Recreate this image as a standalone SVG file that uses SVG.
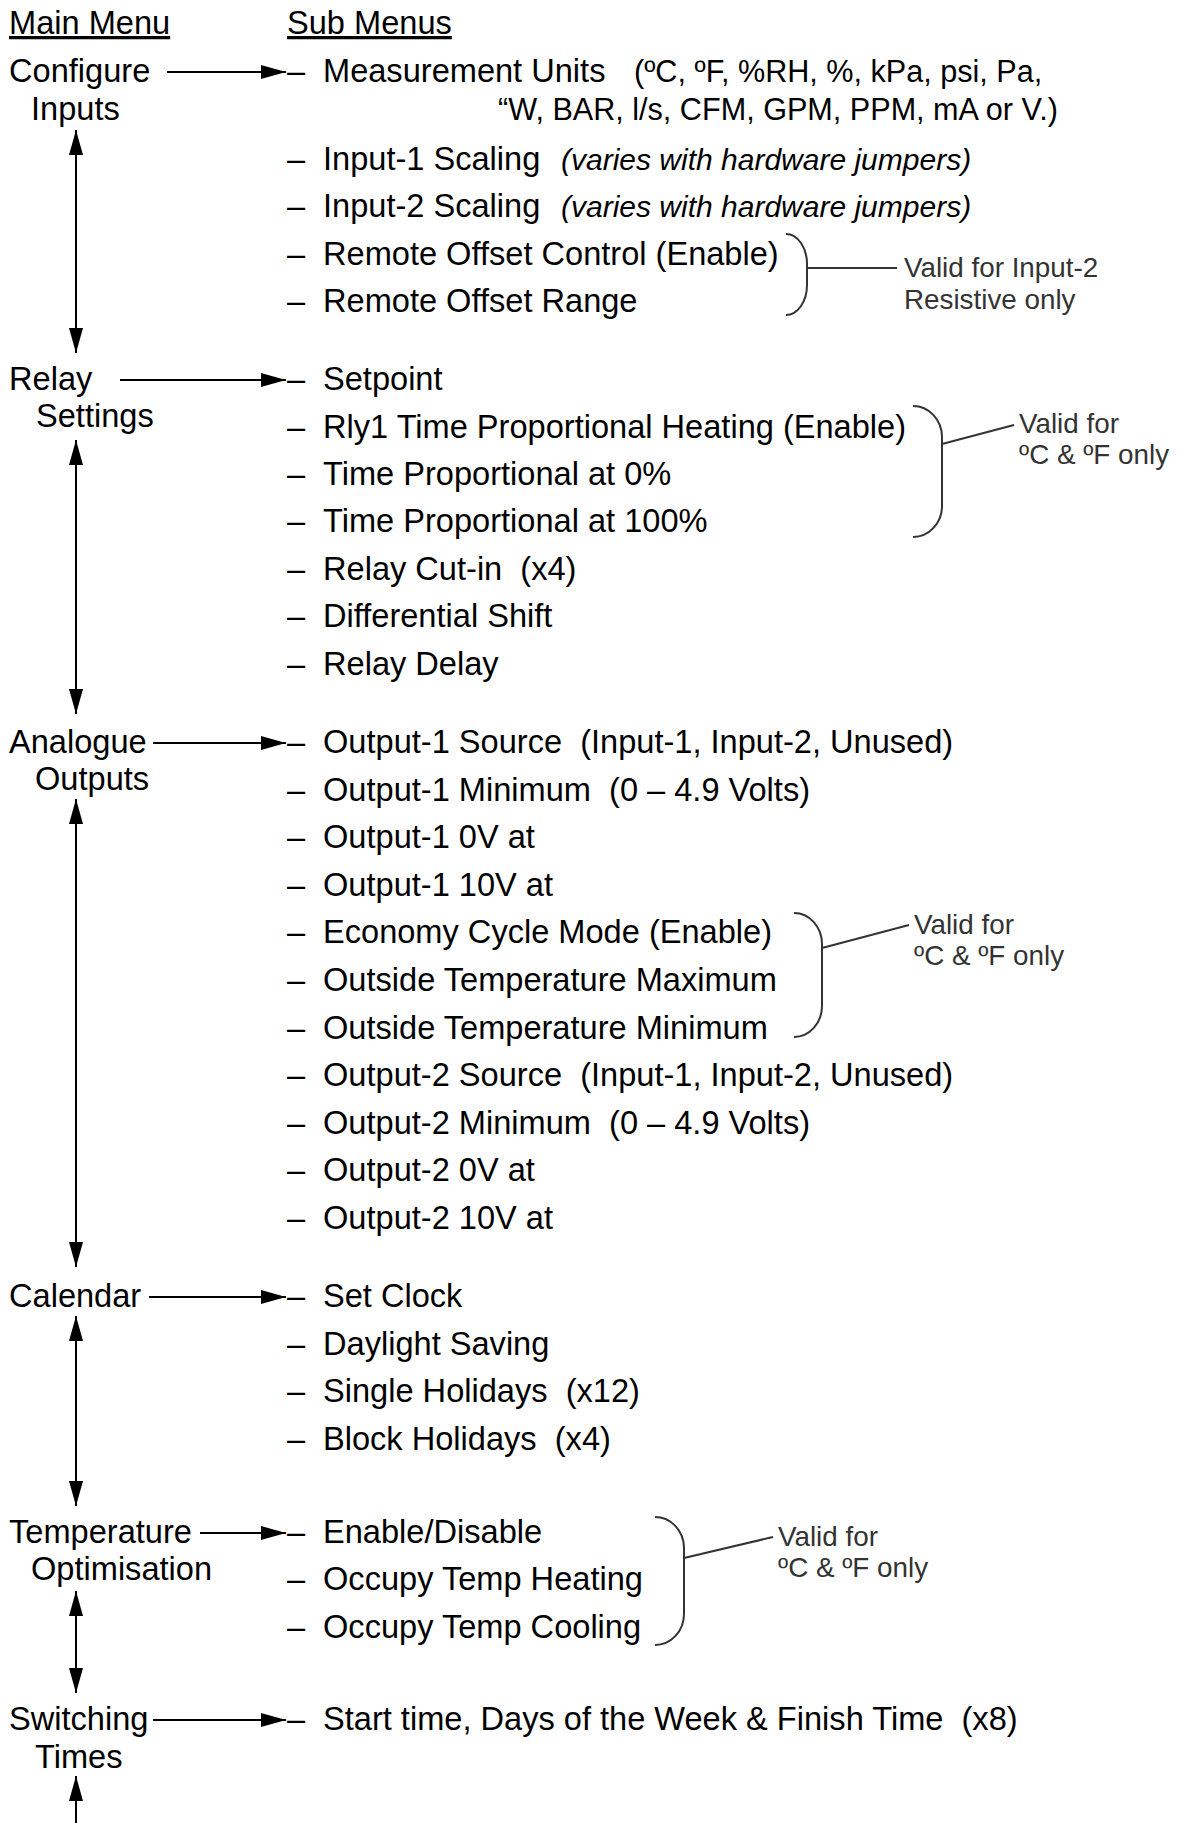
<svg xmlns="http://www.w3.org/2000/svg" width="1180" height="1823" viewBox="0 0 1180 1823">
<style>
text{font-family:"Liberation Sans",Arial,Helvetica,sans-serif;font-size:32.6px;fill:#000;white-space:pre}
.i{font-style:italic;font-size:30px}
.p{font-size:30.6px}
.n{font-size:27.8px;fill:#333}
.u{text-decoration:underline}
.br{fill:none;stroke:#333;stroke-width:2}
.c{stroke:#000;stroke-width:2;fill:none}
.h{marker-end:url(#ah)}
.v{marker-start:url(#ah);marker-end:url(#ah)}
.up{marker-start:url(#ah)}
</style>
<defs>
<marker id="ah" markerUnits="userSpaceOnUse" markerWidth="25" markerHeight="14" refX="25" refY="7" orient="auto-start-reverse">
<path d="M0,0 L25,7 L0,14 z" fill="#000"/>
</marker>
</defs>
<rect width="1180" height="1823" fill="#fff"/>
<g id="headers">
<text class="u" x="9" y="34">Main Menu</text>
<text class="u" x="287" y="34">Sub Menus</text>
</g>
<g id="connectors">
<line class="c h" x1="167" y1="72" x2="286" y2="72"/>
<line class="c h" x1="120" y1="380" x2="286" y2="380"/>
<line class="c h" x1="153" y1="743" x2="286" y2="743"/>
<line class="c h" x1="149" y1="1297" x2="286" y2="1297"/>
<line class="c h" x1="200" y1="1533" x2="286" y2="1533"/>
<line class="c h" x1="153" y1="1720" x2="286" y2="1720"/>
<line class="c v" x1="76" y1="130" x2="76" y2="353"/>
<line class="c v" x1="76" y1="440" x2="76" y2="714"/>
<line class="c v" x1="76" y1="799" x2="76" y2="1267"/>
<line class="c v" x1="76" y1="1316" x2="76" y2="1506"/>
<line class="c v" x1="76" y1="1591" x2="76" y2="1693"/>
<line class="c up" x1="76" y1="1776" x2="76" y2="1823"/>
</g>
<g id="configure-inputs">
<text x="9" y="82">Configure</text>
<text x="31" y="120">Inputs</text>
</g>
<g id="configure-submenu">
<text x="287" y="82">–</text><text x="323" y="82">Measurement Units</text><text class="p" x="634" y="82">(ºC, ºF, %RH, %, kPa, psi, Pa,</text>
<text class="p" x="498" y="120">“W, BAR, l/s, CFM, GPM, PPM, mA or V.)</text>
<text x="287" y="170">–</text><text x="323" y="170">Input-1 Scaling</text><text class="i" x="561" y="170">(varies with hardware jumpers)</text>
<text x="287" y="217">–</text><text x="323" y="217">Input-2 Scaling</text><text class="i" x="561" y="217">(varies with hardware jumpers)</text>
<text x="287" y="265">–</text><text x="323" y="265">Remote Offset Control (Enable)</text>
<text x="287" y="312">–</text><text x="323" y="312">Remote Offset Range</text>
</g>
<g id="note-input2">
<path class="br" d="M786,234 A21,30 0 0 1 807,264 L807,285 A21,30 0 0 1 786,315"/>
<line class="br" x1="807" y1="268" x2="897" y2="268"/>
<text class="n" x="904" y="277">Valid for Input-2</text>
<text class="n" x="904" y="309">Resistive only</text>
</g>
<g id="relay-settings">
<text x="9" y="390">Relay</text>
<text x="36" y="427">Settings</text>
</g>
<g id="relay-submenu">
<text x="287" y="390">–</text><text x="323" y="390">Setpoint</text>
<text x="287" y="438">–</text><text x="323" y="438">Rly1 Time Proportional Heating (Enable)</text>
<text x="287" y="485">–</text><text x="323" y="485">Time Proportional at 0%</text>
<text x="287" y="532">–</text><text x="323" y="532">Time Proportional at 100%</text>
<text x="287" y="580">–</text><text x="323" y="580">Relay Cut-in  (x4)</text>
<text x="287" y="627">–</text><text x="323" y="627">Differential Shift</text>
<text x="287" y="675">–</text><text x="323" y="675">Relay Delay</text>
</g>
<g id="note-relay">
<path class="br" d="M913,406 A29,31 0 0 1 942,437 L942,506 A29,31 0 0 1 913,537"/>
<line class="br" x1="942" y1="444" x2="1014" y2="425"/>
<text class="n" x="1019" y="433">Valid for</text>
<text class="n" x="1019" y="464">ºC &amp; ºF only</text>
</g>
<g id="analogue-outputs">
<text x="9" y="753">Analogue</text>
<text x="35" y="790">Outputs</text>
</g>
<g id="analogue-submenu">
<text x="287" y="753">–</text><text x="323" y="753">Output-1 Source  (Input-1, Input-2, Unused)</text>
<text x="287" y="801">–</text><text x="323" y="801">Output-1 Minimum  (0 – 4.9 Volts)</text>
<text x="287" y="848">–</text><text x="323" y="848">Output-1 0V at</text>
<text x="287" y="896">–</text><text x="323" y="896">Output-1 10V at</text>
<text x="287" y="943">–</text><text x="323" y="943">Economy Cycle Mode (Enable)</text>
<text x="287" y="991">–</text><text x="323" y="991">Outside Temperature Maximum</text>
<text x="287" y="1039">–</text><text x="323" y="1039">Outside Temperature Minimum</text>
<text x="287" y="1086">–</text><text x="323" y="1086">Output-2 Source  (Input-1, Input-2, Unused)</text>
<text x="287" y="1134">–</text><text x="323" y="1134">Output-2 Minimum  (0 – 4.9 Volts)</text>
<text x="287" y="1181">–</text><text x="323" y="1181">Output-2 0V at</text>
<text x="287" y="1229">–</text><text x="323" y="1229">Output-2 10V at</text>
</g>
<g id="note-economy">
<path class="br" d="M794,913 A28,31 0 0 1 822,944 L822,1006 A28,31 0 0 1 794,1037"/>
<line class="br" x1="822" y1="948" x2="909" y2="925"/>
<text class="n" x="914" y="934">Valid for</text>
<text class="n" x="914" y="965">ºC &amp; ºF only</text>
</g>
<g id="calendar">
<text x="9" y="1307">Calendar</text>
</g>
<g id="calendar-submenu">
<text x="287" y="1307">–</text><text x="323" y="1307">Set Clock</text>
<text x="287" y="1355">–</text><text x="323" y="1355">Daylight Saving</text>
<text x="287" y="1402">–</text><text x="323" y="1402">Single Holidays  (x12)</text>
<text x="287" y="1450">–</text><text x="323" y="1450">Block Holidays  (x4)</text>
</g>
<g id="temperature-optimisation">
<text x="9" y="1543">Temperature</text>
<text x="31" y="1580">Optimisation</text>
</g>
<g id="temperature-submenu">
<text x="287" y="1543">–</text><text x="323" y="1543">Enable/Disable</text>
<text x="287" y="1590">–</text><text x="323" y="1590">Occupy Temp Heating</text>
<text x="287" y="1638">–</text><text x="323" y="1638">Occupy Temp Cooling</text>
</g>
<g id="note-temperature">
<path class="br" d="M655,1517 A29,31 0 0 1 684,1548 L684,1614 A29,31 0 0 1 655,1645"/>
<line class="br" x1="684" y1="1558" x2="773" y2="1537"/>
<text class="n" x="778" y="1546">Valid for</text>
<text class="n" x="778" y="1577">ºC &amp; ºF only</text>
</g>
<g id="switching-times">
<text x="9" y="1730">Switching</text>
<text x="35" y="1768">Times</text>
</g>
<g id="switching-submenu">
<text x="287" y="1730">–</text><text x="323" y="1730">Start time, Days of the Week &amp; Finish Time  (x8)</text>
</g>
</svg>
